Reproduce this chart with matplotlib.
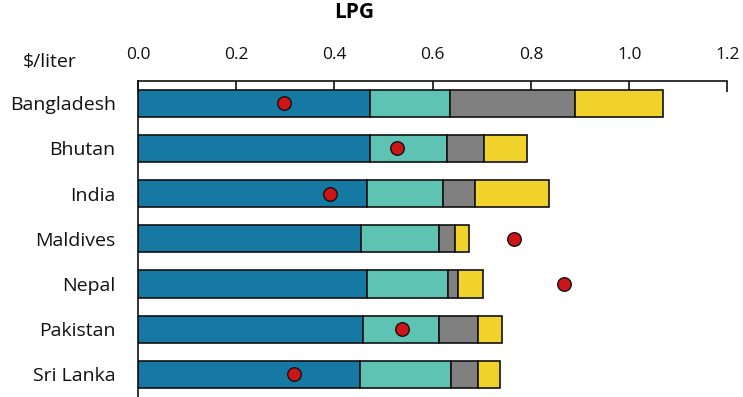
import matplotlib
matplotlib.use('Agg')
import matplotlib.pyplot as plt
import numpy as np

# 数据：各国 LPG 价格构成 ($/liter)
countries = ['Bangladesh', 'Bhutan', 'India', 'Maldives', 'Nepal', 'Pakistan', 'Sri Lanka']
part1 = [0.472, 0.472, 0.467, 0.455, 0.467, 0.459, 0.452]   # 蓝
part2 = [0.163, 0.157, 0.155, 0.157, 0.165, 0.153, 0.185]   # 青
part3 = [0.255, 0.076, 0.065, 0.033, 0.019, 0.080, 0.056]   # 灰
part4 = [0.179, 0.086, 0.149, 0.028, 0.051, 0.049, 0.044]   # 黄
dots = [0.298, 0.528, 0.390, 0.765, 0.868, 0.538, 0.318]
xticks = [0.0, 0.2, 0.4, 0.6, 0.8, 1.0, 1.2]

colors = ['#1679a3', '#5ec3b3', '#808080', '#f1d22a']

plt.rcParams['font.family'] = ['Open Sans', 'DejaVu Sans']


def plot_lpg():
    fig = plt.figure(figsize=(7.43, 3.97), dpi=100)
    ax = fig.add_axes([0.1856, 0.0, 0.7935, 0.7967])

    y = np.arange(len(countries))
    left = np.zeros(len(countries))
    for vals, c in zip([part1, part2, part3, part4], colors):
        ax.barh(y, vals, left=left, height=0.6, color=c, edgecolor='#111111', linewidth=1.2, zorder=2)
        left = left + np.array(vals)

    ax.scatter(dots, y, s=95, color='#cc1517', edgecolor='#111111', linewidth=1.0, zorder=3)

    ax.set_xlim(0, 1.2)
    ax.set_ylim(6.5, -0.5)
    ax.set_yticks(y)
    ax.set_yticklabels(countries)
    ax.set_xticks(xticks)
    ax.set_xticklabels(['%.1f' % v for v in xticks])

    ax.xaxis.tick_top()
    ax.tick_params(axis='x', direction='in', length=8, width=1.2, pad=13, labelsize=12.5, colors='#111111')
    ax.tick_params(axis='y', length=0, pad=16, labelsize=14, colors='#111111')
    for s in ['right', 'bottom']:
        ax.spines[s].set_visible(False)
    for s in ['left', 'top']:
        ax.spines[s].set_linewidth(1.2)
        ax.spines[s].set_color('#111111')

    fig.text(0.476, 0.968, 'LPG', ha='center', va='center', fontsize=15, fontweight='bold')
    fig.text(0.03, 0.845, r'\$/liter', ha='left', va='center', fontsize=14, color='#111111')

    fig.savefig('out.png', dpi=100)


if __name__ == '__main__':
    plot_lpg()
